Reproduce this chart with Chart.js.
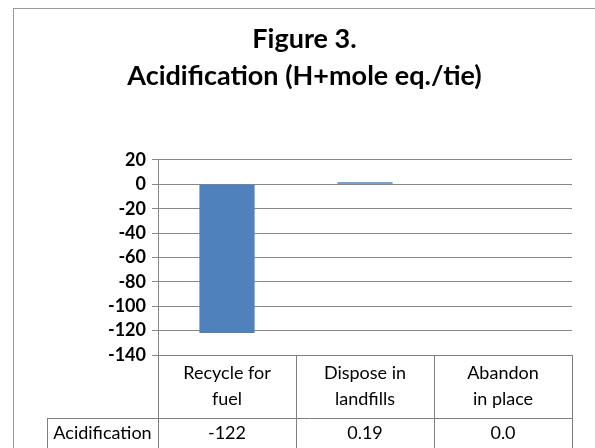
<!DOCTYPE html>
<html>
<head>
<meta charset="utf-8">
<script src="https://cdn.jsdelivr.net/npm/chart.js@4"></script>
<style>
  html, body { margin: 0; padding: 0; background: #fff; }
  #wrap { width: 595px; height: 448px; position: relative; }
</style>
</head>
<body>
<div id="wrap"><canvas id="chart_elem"></canvas></div>
<script>
// data
const categories = [['Recycle for', 'fuel'], ['Dispose in', 'landfills'], ['Abandon', 'in place']];
const seriesName = 'Acidification';
const acidValues = [-122, 0.19, 0.0];
const acidText = ['-122', '0.19', '0.0'];
const titleLines = ['Figure 3.', 'Acidification (H+mole eq./tie)'];
const yMin = -140, yMax = 20, yStep = 20;

const FONT = 'Lato, "Open Sans", sans-serif';

// white page + grey frame round the whole chart
const framePlugin = {
  id: 'frame',
  beforeDraw(chart) {
    const c = chart.ctx;
    c.save();
    c.fillStyle = '#fff';
    c.fillRect(0, 0, chart.width, chart.height);
    c.strokeStyle = '#9a9a9a';
    c.lineWidth = 1;
    c.strokeRect(13.5, 8.5, 700, 600);
    c.restore();
  }
};

// data table under the plot, columns taken from the x scale
const tablePlugin = {
  id: 'dataTable',
  afterDraw(chart) {
    const c = chart.ctx;
    const x = chart.scales.x;
    const area = chart.chartArea;
    const top = area.bottom;
    const mid = top + 63;
    const bot = chart.height + 5;
    const labelLeft = 47;
    const half = (x.getPixelForValue(1) - x.getPixelForValue(0)) / 2;
    const edges = [area.left];
    categories.forEach((_, i) => edges.push(x.getPixelForValue(i) + half));

    c.save();
    c.strokeStyle = '#7f7f7f';
    c.lineWidth = 1;
    c.beginPath();
    edges.forEach(e => {
      const px = Math.round(e) + 0.5;
      c.moveTo(px, top);
      c.lineTo(px, bot);
    });
    c.moveTo(labelLeft + 0.5, mid);
    c.lineTo(labelLeft + 0.5, bot);
    c.moveTo(labelLeft, Math.round(mid) + 0.5);
    c.lineTo(area.right, Math.round(mid) + 0.5);
    c.moveTo(area.left, Math.round(top) + 0.5);
    c.lineTo(area.right, Math.round(top) + 0.5);
    c.stroke();

    c.fillStyle = '#000';
    c.textAlign = 'center';
    c.textBaseline = 'middle';
    c.font = '18px ' + FONT;
    categories.forEach((lines, i) => {
      const cx = x.getPixelForValue(i);
      lines.forEach((t, j) => c.fillText(t, cx, top + 18 + j * 26));
      c.fillText(acidText[i], cx, mid + 15);
    });
    c.fillText(seriesName, (labelLeft + area.left) / 2, mid + 15);
    c.restore();
  }
};

const data = {
  labels: categories,
  datasets: [{
    label: seriesName,
    // a zero bar has no height, so leave it out (minBarLength would draw it)
    data: acidValues.map(v => v === 0 ? null : v),
    backgroundColor: '#4f81bd',
    borderWidth: 0,
    minBarLength: 2,
    categoryPercentage: 1,
    barPercentage: 0.4
  }]
};

const config = {
  type: 'bar',
  data,
  options: {
    responsive: true,
    maintainAspectRatio: false,
    animation: false,
    layout: { padding: { left: 14, right: 0, top: 0, bottom: 0 } },
    plugins: {
      legend: { display: false },
      tooltip: { enabled: false },
      title: {
        display: true,
        text: titleLines,
        color: '#000',
        font: { family: FONT, size: 27, weight: 'bold', lineHeight: 1.37 },
        padding: { top: 21, bottom: 65 }
      }
    },
    scales: {
      x: {
        ticks: { display: false },
        grid: { display: false },
        border: { display: false },
        afterFit(scale) { scale.height = 93; }
      },
      y: {
        min: yMin,
        max: yMax,
        ticks: {
          stepSize: yStep,
          autoSkip: false,
          color: '#000',
          padding: 6,
          font: { family: FONT, size: 18, weight: 'bold' }
        },
        grid: { color: '#868686', tickLength: 6, lineWidth: 1 },
        border: { color: '#868686' },
        afterFit(scale) { scale.width = 144; }
      },
      // empty right-hand strip, keeps the plot off the right edge
      yRight: {
        position: 'right',
        ticks: { display: false },
        grid: { display: false },
        border: { display: false },
        afterFit(scale) { scale.width = 23; }
      }
    }
  },
  plugins: [framePlugin, tablePlugin]
};

const chart = new Chart(document.getElementById('chart_elem'), config);
</script>
</body>
</html>
